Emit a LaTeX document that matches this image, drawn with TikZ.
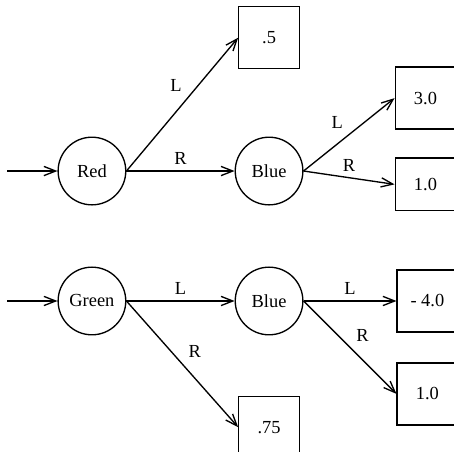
\documentclass[tikz,border=0pt]{standalone}
\usepackage{fontspec}
\setmainfont{Liberation Serif}
\usetikzlibrary{positioning, arrows.meta}

\begin{document}
\begin{tikzpicture}[>={Straight Barb[length=7pt,width=5.5pt]}, thick, font=\fontsize{11}{13}\selectfont,
	test/.style={circle, draw, minimum size=1.42cm, inner sep=0pt},
	leaf/.style={rectangle, draw, minimum width=1.27cm, minimum height=1.3cm}]
	\useasboundingbox (-1.93,-5.88) rectangle (7.6,3.59);
	\clip (-1.93,-5.88) rectangle (7.6,3.59);

	% Primo albero
	\node[test] (red) {Red};
	\coordinate[left=1.05cm of red] (inred);
	\node[test, right=2.27cm of red] (blueA) {Blue};
	\node[leaf, above=1.41cm of blueA] (leafA) {.5};
	\node[leaf, right=1.91cm of blueA, yshift=1.53cm] (leafB) {3.0};
	\node[leaf, right=1.91cm of blueA, yshift=-0.28cm, minimum height=1.11cm] (leafC) {1.0};

	% Secondo albero
	\node[test, below=1.28cm of red] (green) {Green};
	\coordinate[left=1.05cm of green] (ingreen);
	\node[test, right=2.27cm of green] (blueB) {Blue};
	\node[leaf, below=1.26cm of blueB] (leafD) {.75};
	\node[leaf, right=1.95cm of blueB] (leafE) {- 4.0};
	\node[leaf, right=1.95cm of blueB, yshift=-1.95cm] (leafF) {1.0};

	% Connessioni
	\draw[->] (inred) -- (red);
	\draw[->] (red.east) -- node[pos=0.55, above left] {L} (leafA.west);
	\draw[->] (red) -- node[above] {R} (blueA);
	\draw[->] (blueA.east) -- node[above left] {L} (leafB.west);
	\draw[->] (blueA.east) -- node[above] {R} (leafC.west);
	\draw[->] (ingreen) -- (green);
	\draw[->] (green) -- node[above] {L} (blueB);
	\draw[->] (green.east) -- node[above right] {R} (leafD.west);
	\draw[->] (blueB.east) -- node[above] {L} (leafE.west);
	\draw[->] (blueB.east) -- node[above right] {R} (leafF.west);
\end{tikzpicture}
\end{document}
